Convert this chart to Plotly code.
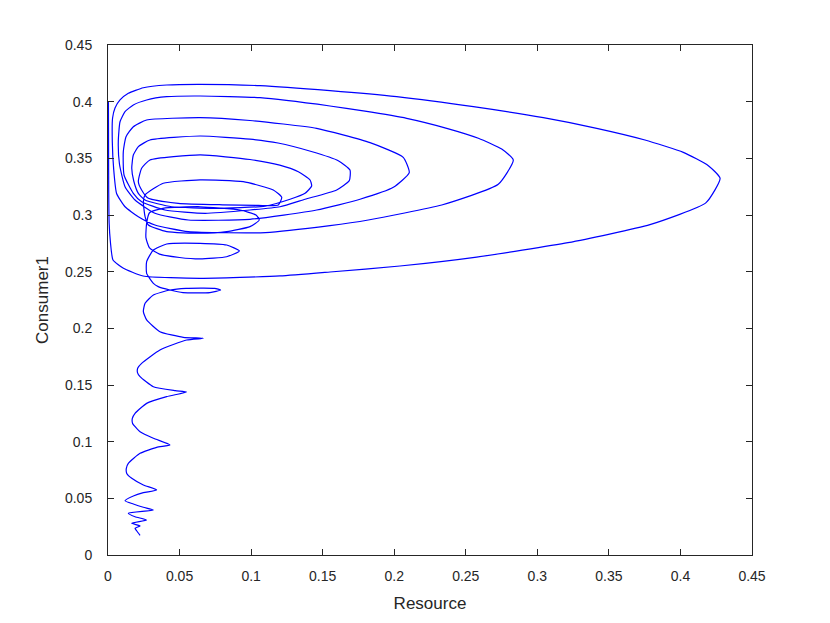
import plotly.graph_objects as go

# Trajectory (time order)
resource = [
    0.0003, 0.0004, 0.0005, 0.0008, 0.0017, 0.0035, 0.0105, 0.0245, 0.0643, 0.1202,
    0.1551, 0.2040, 0.2576, 0.3214, 0.3787, 0.4179, 0.4277, 0.4195, 0.4020, 0.3752,
    0.3415, 0.3042, 0.2553, 0.2017, 0.1551, 0.1062, 0.0643, 0.0410, 0.0247, 0.0142,
    0.0084, 0.0049, 0.0032, 0.0030, 0.0040, 0.0060, 0.0119, 0.0212, 0.0328, 0.0561,
    0.1100,
    0.1551, 0.1819, 0.2332, 0.2727, 0.2832, 0.2751, 0.2588, 0.2367, 0.2087, 0.1784,
    0.1551, 0.1062, 0.0643, 0.0410, 0.0270, 0.0177, 0.0119, 0.0084, 0.0072, 0.0080,
    0.0119, 0.0189, 0.0328, 0.0561, 0.0992,
    0.1458, 0.1761, 0.1994, 0.2105, 0.2063, 0.1831, 0.1458, 0.0992, 0.0643, 0.0270,
    0.0177, 0.0126, 0.0107, 0.0112, 0.0177, 0.0235, 0.0398, 0.0678, 0.0992,
    0.1202, 0.1377, 0.1598, 0.1686, 0.1691, 0.1609, 0.1421, 0.1188, 0.0992, 0.0643,
    0.0293, 0.0212, 0.0177, 0.0166, 0.0180, 0.0212, 0.0259, 0.0445, 0.0748, 0.1097,
    0.1272, 0.1377, 0.1423, 0.1412, 0.1330, 0.1200, 0.0992, 0.0643, 0.0293, 0.0235,
    0.0212, 0.0235, 0.0282, 0.0491, 0.0800, 0.1050, 0.1190,
    0.1214, 0.1155, 0.0945, 0.0643, 0.0386, 0.0259, 0.0247, 0.0259, 0.0282, 0.0410,
    0.0643, 0.0829, 0.0992,
    0.1057, 0.1034, 0.0922, 0.0643, 0.0384, 0.0290, 0.0270, 0.0265, 0.0290, 0.0360,
    0.0500, 0.0643, 0.0829, 0.0918, 0.0829, 0.0643, 0.0410, 0.0317, 0.0270, 0.0270,
    0.0317, 0.0351, 0.0433, 0.0524, 0.0712, 0.0787, 0.0745, 0.0545, 0.0433, 0.0317,
    0.0259, 0.0247, 0.0270, 0.0363, 0.0526, 0.0666, 0.0550, 0.0363, 0.0235, 0.0208,
    0.0206, 0.0224, 0.0317, 0.0470, 0.0548, 0.0410, 0.0270, 0.0189, 0.0170, 0.0172,
    0.0200, 0.0224, 0.0317, 0.0433, 0.0340, 0.0224, 0.0142, 0.0128, 0.0131, 0.0166,
    0.0247, 0.0340, 0.0247, 0.0177, 0.0119, 0.0177, 0.0247, 0.0317, 0.0142, 0.0189,
    0.0270, 0.0166, 0.0224, 0.0189, 0.0200, 0.0224,
]
consumer1 = [
    0.4000, 0.3600, 0.3200, 0.2930, 0.2760, 0.2603, 0.2532, 0.2462, 0.2441, 0.2462,
    0.2497, 0.2550, 0.2629, 0.2756, 0.2915, 0.3109, 0.3324, 0.3435, 0.3553, 0.3662,
    0.3765, 0.3859, 0.3956, 0.4044, 0.4097, 0.4141, 0.4153, 0.4147, 0.4123, 0.4074,
    0.4015, 0.3944, 0.3856, 0.3650, 0.3400, 0.3190, 0.3073, 0.2985, 0.2912, 0.2853,
    0.2845,
    0.2906, 0.2956, 0.3088, 0.3271, 0.3485, 0.3582, 0.3677, 0.3765, 0.3853, 0.3918,
    0.3962, 0.4035, 0.4050, 0.4044, 0.4015, 0.3971, 0.3912, 0.3823, 0.3650, 0.3450,
    0.3250, 0.3132, 0.3015, 0.2956, 0.2962,
    0.3044, 0.3139, 0.3244, 0.3373, 0.3509, 0.3638, 0.3765, 0.3834, 0.3859, 0.3838,
    0.3779, 0.3691, 0.3559, 0.3353, 0.3191, 0.3117, 0.3044, 0.3015, 0.3044,
    0.3073, 0.3139, 0.3221, 0.3303, 0.3397, 0.3479, 0.3560, 0.3635, 0.3669, 0.3697,
    0.3662, 0.3603, 0.3529, 0.3412, 0.3300, 0.3191, 0.3132, 0.3073, 0.3059, 0.3078,
    0.3139, 0.3191, 0.3256, 0.3309, 0.3382, 0.3440, 0.3490, 0.3530, 0.3485, 0.3412,
    0.3294, 0.3221, 0.3147, 0.3103, 0.3090, 0.3085, 0.3088,
    0.3156, 0.3221, 0.3294, 0.3310, 0.3280, 0.3177, 0.3117, 0.2985, 0.2912, 0.2853,
    0.2839, 0.2853, 0.2897,
    0.2956, 0.3000, 0.3044, 0.3073, 0.3059, 0.3020, 0.2927, 0.2800, 0.2710, 0.2655,
    0.2625, 0.2612, 0.2632, 0.2683, 0.2735, 0.2750, 0.2744, 0.2691, 0.2588, 0.2485,
    0.2397, 0.2368, 0.2338, 0.2315, 0.2315, 0.2338, 0.2353, 0.2353, 0.2338, 0.2294,
    0.2221, 0.2147, 0.2074, 0.1970, 0.1921, 0.1912, 0.1897, 0.1809, 0.1691, 0.1650,
    0.1610, 0.1574, 0.1485, 0.1450, 0.1438, 0.1397, 0.1338, 0.1250, 0.1205, 0.1160,
    0.1118, 0.1088, 0.1030, 0.0971, 0.0950, 0.0897, 0.0809, 0.0765, 0.0720, 0.0677,
    0.0618, 0.0574, 0.0550, 0.0521, 0.0479, 0.0450, 0.0421, 0.0397, 0.0368, 0.0338,
    0.0309, 0.0280, 0.0256, 0.0236, 0.0214, 0.0174,
]

tick_vals = [0, 0.05, 0.1, 0.15, 0.2, 0.25, 0.3, 0.35, 0.4, 0.45]
tick_text = ["0", "0.05", "0.1", "0.15", "0.2", "0.25", "0.3", "0.35", "0.4", "0.45"]

FONT = "Liberation Sans, Arial, Helvetica, sans-serif"

fig = go.Figure()
fig.add_trace(go.Scatter(
    x=resource, y=consumer1, mode="lines",
    line=dict(color="#0000ff", width=1.2, shape="spline", smoothing=0.5),
    showlegend=False, hoverinfo="skip",
))

axis_common = dict(
    range=[0, 0.45], tickvals=tick_vals, ticktext=tick_text,
    ticks="inside", ticklen=6, tickcolor="#262626", tickwidth=1,
    showline=True, linecolor="#262626", linewidth=1, mirror="ticks",
    showgrid=False, zeroline=False,
    tickfont=dict(family=FONT, size=14, color="#262626"),
)

fig.update_layout(
    width=822, height=615,
    margin=dict(l=100, r=78, t=37, b=68),
    paper_bgcolor="white", plot_bgcolor="white",
    xaxis=dict(**axis_common, ticklabelstandoff=8,
               title=dict(text="Resource", standoff=14,
                          font=dict(family=FONT, size=17, color="#262626"))),
    yaxis=dict(**axis_common, ticklabelstandoff=12,
               title=dict(text="Consumer1", standoff=12,
                          font=dict(family=FONT, size=17, color="#262626"))),
)

fig.write_html("out.html")
